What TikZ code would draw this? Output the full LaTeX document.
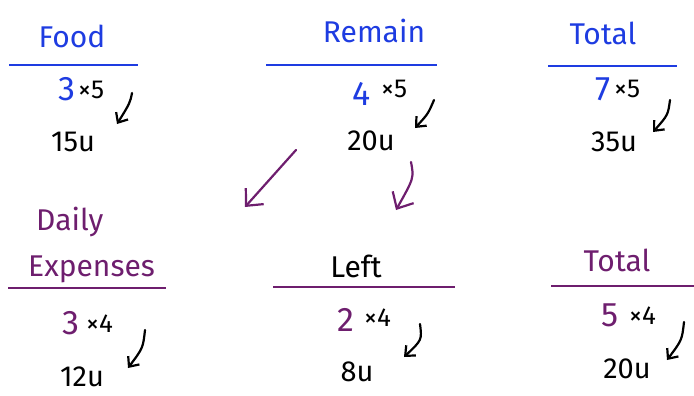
\documentclass[tikz,border=0pt]{standalone}
\usepackage{fontspec}
\setmainfont{Fira Sans}
\usetikzlibrary{arrows.meta}
\definecolor{inkblue}{RGB}{30,60,225}
\definecolor{inkpurple}{RGB}{110,30,110}
\tikzset{
  every node/.style={inner sep=0pt},
  headtxt/.style={anchor=base, font=\fontsize{30}{30}\selectfont},
  bignum/.style={anchor=base, font=\fontsize{34}{34}\selectfont},
  timestxt/.style={anchor=base west, font=\fontsize{26}{26}\selectfont},
  resulttxt/.style={anchor=base, font=\fontsize{29}{29}\selectfont},
  rulel/.style={line width=2pt},
  pen/.style={line width=2.2pt, line cap=round, -{Straight Barb[length=8pt,width=14pt]}},
  bigpen/.style={line width=2.2pt, line cap=round, inkpurple, -{Straight Barb[length=13pt,width=24pt]}},
}
\begin{document}
\begin{tikzpicture}[x=1pt,y=-1pt]
\useasboundingbox (0,0) rectangle (694,396);
% ---------- top row ----------
\node[headtxt, text=inkblue] (food) at (72,48) {Food};
\draw[rulel, inkblue] (9,65) -- (138,65);
\node[bignum, text=inkblue] (f3) at (67,101) {3};
\node[timestxt] (fx) at (78,99) {×5};
\node[resulttxt] (f15) at (73,151) {15u};
\coordinate (fa1) at (132,93);
\coordinate (fa2) at (117,124);
\draw[pen] (fa1) .. controls (130,103) .. (fa2);

\node[headtxt, text=inkblue] (remain) at (374,43) {Remain};
\draw[rulel, inkblue] (266,65) -- (437,65);
\node[bignum, text=inkblue] (r4) at (362,106) {4};
\node[timestxt] (rx) at (381,98) {×5};
\node[resulttxt] (r20) at (371,150) {20u};
\coordinate (ra1) at (434,100);
\coordinate (ra2) at (415,128);
\draw[pen] (ra1) .. controls (428,114) .. (ra2);

\node[headtxt, text=inkblue] (total1) at (603,45) {Total};
\draw[rulel, inkblue] (548,66) -- (677,66);
\node[bignum, text=inkblue] (t7) at (603,101) {7};
\node[timestxt] (tx) at (614,98) {×5};
\node[resulttxt] (t35) at (614,151) {35u};
\coordinate (ta1) at (670,100);
\coordinate (ta2) at (653,132);
\draw[pen] (ta1) .. controls (668,115) .. (ta2);

% ---------- purple arrows ----------
\coordinate (pa1) at (296,150);
\coordinate (pa2) at (245,207);
\draw[bigpen] (pa1) -- (pa2);
\coordinate (pb1) at (411,162);
\coordinate (pb2) at (396,210);
\draw[bigpen] (pb1) .. controls (414,178) .. (pb2);

% ---------- bottom row ----------
\node[headtxt, text=inkpurple, anchor=base west] (daily) at (36,230) {Daily};
\node[headtxt, text=inkpurple, anchor=base west] (exp) at (28,276) {Expenses};
\draw[rulel, inkpurple] (8,288) -- (166,288);
\node[bignum, text=inkpurple] (d3) at (71,334) {3};
\node[timestxt] (dx) at (86,332) {×4};
\node[resulttxt] (d12) at (82,386) {12u};
\coordinate (da1) at (145,330);
\coordinate (da2) at (128,368);
\draw[pen] (da1) .. controls (143,348) .. (da2);

\node[headtxt] (left) at (356,277) {Left};
\draw[rulel, inkpurple] (273,287) -- (455,287);
\node[bignum, text=inkpurple] (l2) at (346,331) {2};
\node[timestxt] (lx) at (364,326) {×4};
\node[resulttxt] (l8) at (357,381) {8u};
\coordinate (la1) at (420,324);
\coordinate (la2) at (404,357);
\draw[pen] (la1) .. controls (422,340) .. (la2);

\node[headtxt, text=inkpurple] (total2) at (617,271) {Total};
\draw[rulel, inkpurple] (551,286) -- (694,286);
\node[bignum, text=inkpurple] (t5) at (610,326) {5};
\node[timestxt] (t5x) at (629,324) {×4};
\node[resulttxt] (t20) at (627,378) {20u};
\coordinate (tb1) at (684,322);
\coordinate (tb2) at (667,360);
\draw[pen] (tb1) .. controls (682,340) .. (tb2);
\end{tikzpicture}
\end{document}
